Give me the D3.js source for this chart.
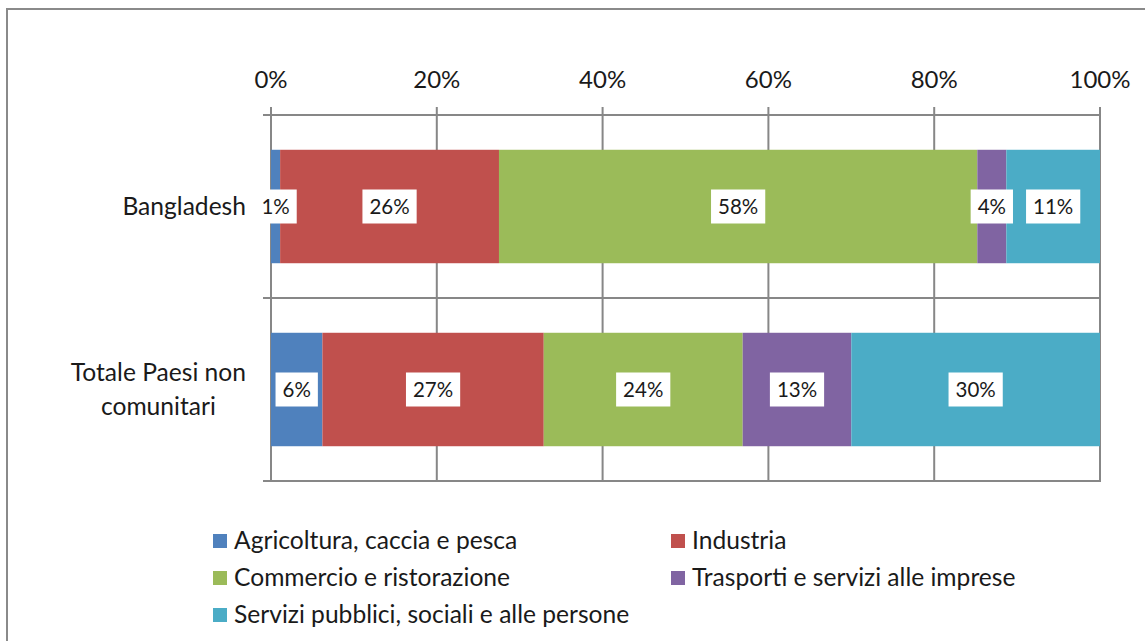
<!DOCTYPE html>
<html>
<head>
<meta charset="utf-8">
<script src="https://cdn.jsdelivr.net/npm/d3@7"></script>
<style>
  body { margin: 0; background: #fff; }
  text { font-family: Lato, "Open Sans", sans-serif; fill: #1a1a1a; }
</style>
</head>
<body>
<svg id="chart" width="1145" height="641"></svg>
<script>
// data (percent shares, stacked to 100)
const categories = ["Bangladesh", "Totale Paesi non comunitari"];
const catLines = [["Bangladesh"], ["Totale Paesi non", "comunitari"]];
const series = [
  "Agricoltura, caccia e pesca",
  "Industria",
  "Commercio e ristorazione",
  "Trasporti e servizi alle imprese",
  "Servizi pubblici, sociali e alle persone"
];
const agricoltura = [1.1, 6.2];
const industria = [26.4, 26.7];
const commercio = [57.7, 24.0];
const trasporti = [3.5, 13.1];
const servizi = [11.3, 30.0];
const colors = ["#4F81BD", "#C0504D", "#9BBB59", "#8064A2", "#4BACC6"];
const ticks = [0, 20, 40, 60, 80, 100];

const values = [agricoltura, industria, commercio, trasporti, servizi];
const rows = categories.map((c, i) => {
  const r = { cat: c };
  series.forEach((s, j) => r[s] = values[j][i]);
  return r;
});

const svg = d3.select("#chart");
const grid = "#878787";

// outer frame
svg.append("rect")
  .attr("x", 7).attr("y", 9).attr("width", 1160).attr("height", 660)
  .attr("fill", "none").attr("stroke", "#8a8a8a").attr("stroke-width", 2);

const x = d3.scaleLinear().domain([0, 100]).range([271, 1100]);
const y = d3.scaleBand().domain(categories).range([115, 481]).padding(0);

const plotTop = 115, plotBottom = 481;

// vertical gridlines + top ticks
svg.append("g").selectAll("line").data(ticks).join("line")
  .attr("x1", d => x(d)).attr("x2", d => x(d))
  .attr("y1", plotTop - 8).attr("y2", plotBottom)
  .attr("stroke", grid).attr("stroke-width", 2);

// horizontal lines at category boundaries
const bounds = categories.map(c => y(c)).concat([plotBottom]);
svg.append("g").selectAll("line").data(bounds).join("line")
  .attr("x1", 263).attr("x2", x(100) + 1)
  .attr("y1", d => d).attr("y2", d => d)
  .attr("stroke", grid).attr("stroke-width", 2);

// tick labels at top
svg.append("g").selectAll("text").data(ticks).join("text")
  .attr("x", d => x(d)).attr("y", 88)
  .attr("text-anchor", "middle")
  .attr("font-size", 24)
  .text(d => d + "%");

// stacked bars
const stack = d3.stack().keys(series)(rows);
const barH = y.bandwidth() * 0.62;
const barOff = (y.bandwidth() - barH) / 2;

const layers = svg.append("g").selectAll("g").data(stack).join("g")
  .attr("fill", (d, i) => colors[i]);

layers.selectAll("rect").data(d => d).join("rect")
  .attr("x", d => x(d[0]))
  .attr("width", d => x(d[1]) - x(d[0]))
  .attr("y", d => y(d.data.cat) + barOff)
  .attr("height", barH);

// data labels in white boxes
const labels = svg.append("g");
stack.forEach(layer => {
  layer.forEach(d => {
    const cx = (x(d[0]) + x(d[1])) / 2;
    const cy = y(d.data.cat) + y.bandwidth() / 2;
    const g = labels.append("g");
    const t = g.append("text")
      .attr("x", cx).attr("y", cy + 7)
      .attr("text-anchor", "middle")
      .attr("font-size", 20.5)
      .text(Math.round(d[1] - d[0]) + "%");
    const w = t.node().getComputedTextLength();
    g.insert("rect", "text")
      .attr("x", cx - w / 2 - 7).attr("y", cy - 17)
      .attr("width", w + 14).attr("height", 34)
      .attr("fill", "#fff");
  });
});

// category labels
categories.forEach((c, i) => {
  const lines = catLines[i];
  const cy = y(c) + y.bandwidth() / 2;
  const lh = 34;
  const t = svg.append("text")
    .attr("font-size", 24.6)
    .attr("text-anchor", "middle");
  lines.forEach((l, k) => {
    t.append("tspan").attr("x", 0)
      .attr("y", cy + 8 + (k - (lines.length - 1) / 2) * lh)
      .text(l);
  });
  const w = d3.max(t.selectAll("tspan").nodes(), n => n.getComputedTextLength());
  t.selectAll("tspan").attr("x", 246 - w / 2);
});

// legend
const legX = [213, 671];
const legY = [541, 578, 615];
const leg = svg.append("g").selectAll("g").data(series).join("g")
  .attr("transform", (d, i) => `translate(${legX[i % 2]},${legY[Math.floor(i / 2)]})`);
leg.append("rect")
  .attr("x", 0).attr("y", -7).attr("width", 14).attr("height", 14)
  .attr("fill", (d, i) => colors[i]);
leg.append("text")
  .attr("x", 21).attr("y", 8)
  .attr("font-size", 24.6)
  .text(d => d);
</script>
</body>
</html>
